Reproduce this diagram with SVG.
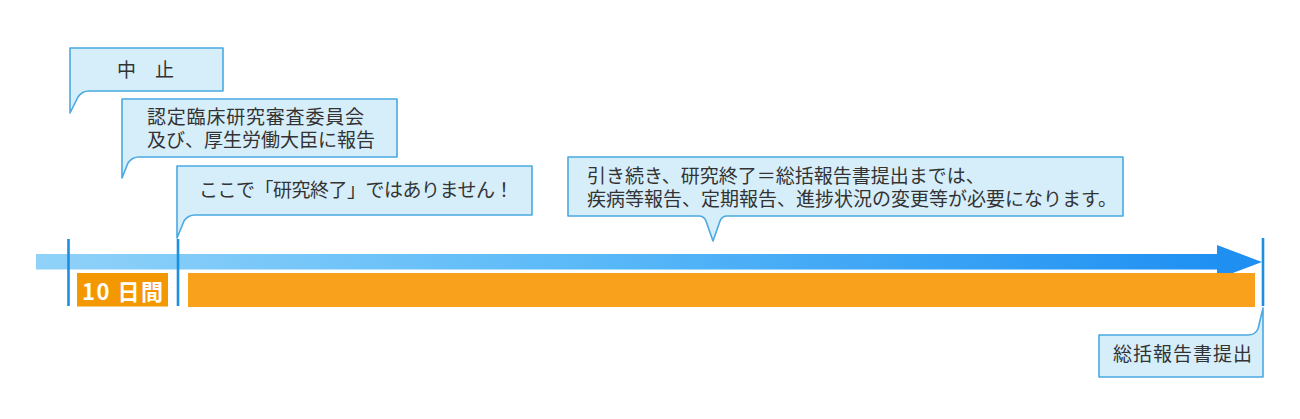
<svg xmlns="http://www.w3.org/2000/svg" width="1300" height="419" viewBox="0 0 1300 419">
<style>
.co{fill:#d6eefa;stroke:#4aa9e2;stroke-width:1.6;stroke-linejoin:round}
.t{font-family:"Noto Sans CJK JP","Noto Sans",sans-serif;font-size:19px;fill:#333}
.tick{stroke:#1d8fe0;stroke-width:2.6}
</style>
<defs>
<linearGradient id="bar" x1="36" y1="0" x2="1222" y2="0" gradientUnits="userSpaceOnUse">
<stop offset="0" stop-color="#90d2f9"/>
<stop offset="0.45" stop-color="#5cbaf8"/>
<stop offset="1" stop-color="#1f90f2"/>
</linearGradient>
</defs>
<rect width="1300" height="419" fill="#fff"/>
<g id="timeline">
<rect x="36" y="254" width="1184" height="15.5" fill="url(#bar)"/>
<polygon points="1217,245 1262,262 1217,279" fill="#1f90f2"/>
<line class="tick" x1="68.5" y1="239" x2="68.5" y2="306"/>
<line class="tick" x1="178" y1="239" x2="178" y2="306"/>
<line class="tick" x1="1263" y1="238" x2="1263" y2="306"/>
</g>
<g id="period-10days">
<rect x="77" y="273" width="91" height="33.5" fill="#f39800"/>
<text x="82" y="300" font-family="'Noto Sans CJK JP','Noto Sans',sans-serif" font-size="22" font-weight="bold" letter-spacing="1.5" fill="#fff">10 日間</text>
</g>
<g id="period-rest">
<rect x="188" y="273" width="1067" height="34" fill="#f9a11c"/>
</g>
<g id="callout-stop">
<path class="co" d="M70,48 H223 V91 H89 Q82,91 78,97 L70,113 Z"/>
<text class="t" x="117" y="77" font-size="19.5">中　止</text>
</g>
<g id="callout-report">
<path class="co" d="M122,99 H397 V157 H139 Q132,157 128,163 L122,178 Z"/>
<text class="t" x="147" y="124" letter-spacing="0.8">認定臨床研究審査委員会</text>
<text class="t" x="147" y="147">及び、厚生労働大臣に報告</text>
</g>
<g id="callout-notend">
<path class="co" d="M177,166 H532 V215 H195 Q188,215 184,221 L177,238 Z"/>
<text class="t" x="199" y="197" letter-spacing="-0.5">ここで「研究終了」ではありません！</text>
</g>
<g id="callout-continue">
<path class="co" d="M568,157 H1123 V216 H727 Q722,216 720,221 L713,241 L706,221 Q704,216 699,216 H568 Z"/>
<text class="t" x="587" y="183">引き続き、研究終了＝総括報告書提出までは、</text>
<text class="t" x="587" y="206">疾病等報告、定期報告、進捗状況の変更等が必要になります。</text>
</g>
<g id="callout-final">
<path class="co" d="M1099,335 H1248 Q1255,335 1258,329 L1263,308 V377 H1099 Z"/>
<text class="t" x="1113" y="361" letter-spacing="1">総括報告書提出</text>
</g>
</svg>
